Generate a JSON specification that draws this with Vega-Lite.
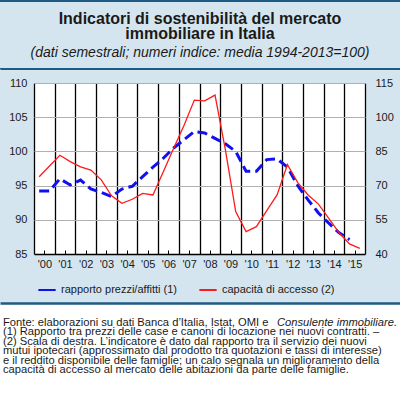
{
  "$schema": "https://vega.github.io/schema/vega-lite/v6.json",
  "background": "#d5e5ef",
  "padding": 0,
  "spacing": 8,
  "columns": 1,
  "datasets": {
    "indicatori": [
      {"periodo": 2000.25, "serie": "rapporto prezzi/affitti (1)", "valore": 94.2},
      {"periodo": 2000.75, "serie": "rapporto prezzi/affitti (1)", "valore": 94.2},
      {"periodo": 2001.25, "serie": "rapporto prezzi/affitti (1)", "valore": 96.0},
      {"periodo": 2001.75, "serie": "rapporto prezzi/affitti (1)", "valore": 95.1},
      {"periodo": 2002.25, "serie": "rapporto prezzi/affitti (1)", "valore": 95.8},
      {"periodo": 2002.75, "serie": "rapporto prezzi/affitti (1)", "valore": 94.5},
      {"periodo": 2003.25, "serie": "rapporto prezzi/affitti (1)", "valore": 94.0},
      {"periodo": 2003.75, "serie": "rapporto prezzi/affitti (1)", "valore": 93.4},
      {"periodo": 2004.25, "serie": "rapporto prezzi/affitti (1)", "valore": 94.5},
      {"periodo": 2004.75, "serie": "rapporto prezzi/affitti (1)", "valore": 94.9},
      {"periodo": 2005.25, "serie": "rapporto prezzi/affitti (1)", "valore": 96.3},
      {"periodo": 2005.75, "serie": "rapporto prezzi/affitti (1)", "valore": 97.7},
      {"periodo": 2006.25, "serie": "rapporto prezzi/affitti (1)", "valore": 99.0},
      {"periodo": 2006.75, "serie": "rapporto prezzi/affitti (1)", "valore": 100.5},
      {"periodo": 2007.25, "serie": "rapporto prezzi/affitti (1)", "valore": 101.7},
      {"periodo": 2007.75, "serie": "rapporto prezzi/affitti (1)", "valore": 102.9},
      {"periodo": 2008.25, "serie": "rapporto prezzi/affitti (1)", "valore": 102.7},
      {"periodo": 2008.75, "serie": "rapporto prezzi/affitti (1)", "valore": 101.9},
      {"periodo": 2009.25, "serie": "rapporto prezzi/affitti (1)", "valore": 101.1},
      {"periodo": 2009.75, "serie": "rapporto prezzi/affitti (1)", "valore": 100.0},
      {"periodo": 2010.25, "serie": "rapporto prezzi/affitti (1)", "valore": 97.1},
      {"periodo": 2010.75, "serie": "rapporto prezzi/affitti (1)", "valore": 97.1},
      {"periodo": 2011.25, "serie": "rapporto prezzi/affitti (1)", "valore": 98.8},
      {"periodo": 2011.75, "serie": "rapporto prezzi/affitti (1)", "valore": 98.9},
      {"periodo": 2012.25, "serie": "rapporto prezzi/affitti (1)", "valore": 97.7},
      {"periodo": 2012.75, "serie": "rapporto prezzi/affitti (1)", "valore": 95.0},
      {"periodo": 2013.25, "serie": "rapporto prezzi/affitti (1)", "valore": 92.9},
      {"periodo": 2013.75, "serie": "rapporto prezzi/affitti (1)", "valore": 91.0},
      {"periodo": 2014.25, "serie": "rapporto prezzi/affitti (1)", "valore": 89.5},
      {"periodo": 2014.75, "serie": "rapporto prezzi/affitti (1)", "valore": 88.1},
      {"periodo": 2015.25, "serie": "rapporto prezzi/affitti (1)", "valore": 87.1},
      {"periodo": 2000.25, "serie": "capacità di accesso (2)", "valore": 73.9},
      {"periodo": 2000.75, "serie": "capacità di accesso (2)", "valore": 78.6},
      {"periodo": 2001.25, "serie": "capacità di accesso (2)", "valore": 83.3},
      {"periodo": 2001.75, "serie": "capacità di accesso (2)", "valore": 80.5},
      {"periodo": 2002.25, "serie": "capacità di accesso (2)", "valore": 78.2},
      {"periodo": 2002.75, "serie": "capacità di accesso (2)", "valore": 76.8},
      {"periodo": 2003.25, "serie": "capacità di accesso (2)", "valore": 72.5},
      {"periodo": 2003.75, "serie": "capacità di accesso (2)", "valore": 65.5},
      {"periodo": 2004.25, "serie": "capacità di accesso (2)", "valore": 62.2},
      {"periodo": 2004.75, "serie": "capacità di accesso (2)", "valore": 64.0},
      {"periodo": 2005.25, "serie": "capacità di accesso (2)", "valore": 66.6},
      {"periodo": 2005.75, "serie": "capacità di accesso (2)", "valore": 65.9},
      {"periodo": 2006.25, "serie": "capacità di accesso (2)", "valore": 76.1},
      {"periodo": 2006.75, "serie": "capacità di accesso (2)", "valore": 86.4},
      {"periodo": 2007.25, "serie": "capacità di accesso (2)", "valore": 96.4},
      {"periodo": 2007.75, "serie": "capacità di accesso (2)", "valore": 107.5},
      {"periodo": 2008.25, "serie": "capacità di accesso (2)", "valore": 107.2},
      {"periodo": 2008.75, "serie": "capacità di accesso (2)", "valore": 109.7},
      {"periodo": 2009.25, "serie": "capacità di accesso (2)", "valore": 85.8},
      {"periodo": 2009.75, "serie": "capacità di accesso (2)", "valore": 58.6},
      {"periodo": 2010.25, "serie": "capacità di accesso (2)", "valore": 49.8},
      {"periodo": 2010.75, "serie": "capacità di accesso (2)", "valore": 52.0},
      {"periodo": 2011.25, "serie": "capacità di accesso (2)", "valore": 59.0},
      {"periodo": 2011.75, "serie": "capacità di accesso (2)", "valore": 65.9},
      {"periodo": 2012.25, "serie": "capacità di accesso (2)", "valore": 79.2},
      {"periodo": 2012.75, "serie": "capacità di accesso (2)", "valore": 71.3},
      {"periodo": 2013.25, "serie": "capacità di accesso (2)", "valore": 65.9},
      {"periodo": 2013.75, "serie": "capacità di accesso (2)", "valore": 61.9},
      {"periodo": 2014.25, "serie": "capacità di accesso (2)", "valore": 55.6},
      {"periodo": 2014.75, "serie": "capacità di accesso (2)", "valore": 49.3},
      {"periodo": 2015.25, "serie": "capacità di accesso (2)", "valore": 44.4},
      {"periodo": 2015.75, "serie": "capacità di accesso (2)", "valore": 42.5}
    ],
    "note": [
      {"riga": 1, "testo": "Fonte: elaborazioni su dati Banca d’Italia, Istat, OMI e"},
      {"riga": 2, "testo": "(1) Rapporto tra prezzi delle case e canoni di locazione nei nuovi contratti. –"},
      {"riga": 3, "testo": "(2) Scala di destra. L’indicatore è dato dal rapporto tra il servizio dei nuovi"},
      {"riga": 4, "testo": "mutui ipotecari (approssimato dal prodotto tra quotazioni e tassi di interesse)"},
      {"riga": 5, "testo": "e il reddito disponibile delle famiglie; un calo segnala un miglioramento della"},
      {"riga": 6, "testo": "capacità di accesso al mercato delle abitazioni da parte delle famiglie."}
    ],
    "corsivo": [
      {"riga": 1, "testo": "Consulente immobiliare."}
    ]
  },
  "concat": [
    {
      "width": 400,
      "height": 2,
      "view": {"fill": "#1f5a85", "stroke": null},
      "layer": [
        {
          "data": {"name": "corsivo"},
          "mark": {"type": "point", "size": 0, "opacity": 0},
          "encoding": {
            "x": {
              "datum": 0,
              "type": "quantitative",
              "scale": {"domain": [0, 1]},
              "axis": {"orient": "top", "labels": false, "ticks": false, "grid": false, "domainColor": "#1f5a85", "domainWidth": 2}
            },
            "y": {"field": "riga", "type": "ordinal", "axis": null}
          }
        }
      ]
    },
    {
      "width": 400,
      "height": 1,
      "view": {"fill": "#1f5a85", "stroke": null},
      "title": {
        "text": ["Indicatori di sostenibilità del mercato", "immobiliare in Italia"],
        "subtitle": "(dati semestrali; numeri indice: media 1994-2013=100)",
        "anchor": "middle",
        "align": "center",
        "frame": "group",
        "offset": 8.5
      },
      "layer": [
        {
          "data": {"name": "corsivo"},
          "mark": {"type": "point", "size": 0, "opacity": 0},
          "encoding": {
            "x": {
              "datum": 0,
              "type": "quantitative",
              "scale": {"domain": [0, 1]},
              "axis": {"orient": "bottom", "labels": false, "ticks": false, "grid": false, "domainColor": "#1f5a85", "domainWidth": 1.2}
            },
            "y": {"field": "riga", "type": "ordinal", "axis": null}
          }
        }
      ]
    },
    {
      "width": 400,
      "height": 171,
      "view": {"fill": null, "stroke": null},
      "data": {"name": "indicatori"},
      "encoding": {
        "x": {
          "field": "periodo",
          "type": "quantitative",
          "scale": {"domain": [2000, 2016], "range": [34, 365], "nice": false, "zero": false}
        }
      },
      "layer": [
        {
          "transform": [{"filter": "datum.serie === 'capacità di accesso (2)'"}],
          "mark": {"type": "line", "opacity": 0},
          "encoding": {
            "x": {
              "field": "periodo",
              "type": "quantitative",
              "axis": {
                "orient": "bottom",
                "values": [2008],
                "grid": true,
                "gridColor": "#ffffff",
                "gridWidth": 331,
                "gridOpacity": 1,
                "gridCap": "butt",
                "labels": false,
                "ticks": false,
                "domain": false
              }
            },
            "y": {"field": "valore", "type": "quantitative", "axis": null}
          }
        },
        {
          "transform": [{"filter": "datum.serie === 'rapporto prezzi/affitti (1)'"}],
          "mark": {"type": "line", "strokeWidth": 3, "strokeDash": [10, 5]},
          "encoding": {
            "x": {
              "field": "periodo",
              "type": "quantitative",
              "axis": {
                "orient": "bottom",
                "values": [2000, 2001, 2002, 2003, 2004, 2005, 2006, 2007, 2008, 2009, 2010, 2011, 2012, 2013, 2014, 2015, 2016],
                "grid": true,
                "gridColor": "#000000",
                "gridWidth": 1.3,
                "gridOpacity": 1,
                "labels": false,
                "ticks": false,
                "domainColor": "#000000",
                "domainWidth": 1.3
              }
            },
            "y": {
              "field": "valore",
              "type": "quantitative",
              "scale": {"domain": [85, 110], "nice": false, "zero": false},
              "axis": {
                "orient": "left",
                "offset": -34,
                "values": [85, 90, 95, 100, 105, 110],
                "labelOverlap": false,
                "grid": true,
                "gridColor": "#b0b0b0",
                "gridOpacity": 1,
                "ticks": false,
                "domain": false,
                "labelPadding": 7
              }
            },
            "color": {
              "field": "serie",
              "type": "nominal",
              "scale": {
                "domain": ["rapporto prezzi/affitti (1)", "capacità di accesso (2)"],
                "range": ["#1010f0", "#ff1a1a"]
              },
              "legend": {"title": null, "orient": "none", "direction": "horizontal", "legendX": 37, "legendY": 197}
            }
          }
        },
        {
          "transform": [{"filter": "datum.serie === 'capacità di accesso (2)'"}],
          "mark": {"type": "line", "strokeWidth": 1.3},
          "encoding": {
            "x": {
              "field": "periodo",
              "type": "quantitative",
              "axis": {
                "orient": "bottom",
                "values": [2000.5, 2001.5, 2002.5, 2003.5, 2004.5, 2005.5, 2006.5, 2007.5, 2008.5, 2009.5, 2010.5, 2011.5, 2012.5, 2013.5, 2014.5, 2015.5],
                "labelExpr": "\"'\" + substring(format(floor(datum.value), 'd'), 2)",
                "grid": false,
                "domain": false,
                "ticks": true,
                "tickColor": "#000000",
                "tickSize": -4,
                "labelPadding": 8
              }
            },
            "y": {
              "field": "valore",
              "type": "quantitative",
              "scale": {"domain": [40, 115], "nice": false, "zero": false},
              "axis": {
                "orient": "right",
                "offset": -35,
                "values": [40, 55, 70, 85, 100, 115],
                "labelOverlap": false,
                "grid": false,
                "ticks": false,
                "domain": false,
                "labelPadding": 10
              }
            },
            "color": {
              "field": "serie",
              "type": "nominal",
              "scale": {
                "domain": ["rapporto prezzi/affitti (1)", "capacità di accesso (2)"],
                "range": ["#1010f0", "#ff1a1a"]
              },
              "legend": {"title": null, "orient": "none", "direction": "horizontal", "legendX": 37, "legendY": 197}
            }
          }
        }
      ],
      "resolve": {"scale": {"y": "independent"}, "axis": {"x": "independent"}}
    },
    {
      "width": 400,
      "height": 103,
      "view": {"fill": "white", "stroke": null},
      "layer": [
        {
          "data": {"name": "note"},
          "mark": {"type": "text", "align": "left", "fontSize": 11.2, "color": "#1a1a1a", "dx": 3},
          "encoding": {
            "x": {
              "datum": 0,
              "type": "quantitative",
              "scale": {"domain": [0, 1]},
              "axis": {"orient": "top", "labels": false, "ticks": false, "grid": false, "domainColor": "#1f5a85", "domainWidth": 2.5}
            },
            "y": {"field": "riga", "type": "ordinal", "scale": {"type": "point", "domain": [1, 2, 3, 4, 5, 6], "range": [15, 72]}, "axis": null},
            "text": {"field": "testo"}
          }
        },
        {
          "data": {"name": "corsivo"},
          "mark": {"type": "text", "align": "right", "fontSize": 11.2, "fontStyle": "italic", "color": "#1a1a1a", "dx": -3},
          "encoding": {
            "x": {"datum": 1, "type": "quantitative"},
            "y": {"field": "riga", "type": "ordinal", "scale": {"type": "point", "domain": [1, 2, 3, 4, 5, 6], "range": [15, 72]}, "axis": null},
            "text": {"field": "testo"}
          }
        }
      ]
    }
  ],
  "resolve": {"scale": {"color": "independent"}, "legend": {"color": "independent"}},
  "config": {
    "font": "Liberation Sans",
    "view": {"stroke": null},
    "axis": {
      "title": null,
      "labelFont": "Liberation Sans",
      "labelFontSize": 11,
      "labelColor": "#1a1a1a"
    },
    "legend": {
      "symbolType": "stroke",
      "symbolSize": 300,
      "symbolStrokeWidth": 2,
      "symbolDash": [1, 0],
      "labelFont": "Liberation Sans",
      "labelFontSize": 11,
      "labelColor": "#1a1a1a",
      "columnPadding": 18
    },
    "title": {
      "font": "Liberation Sans",
      "fontSize": 16,
      "fontWeight": "bold",
      "color": "#1a1a1a",
      "lineHeight": 15,
      "subtitleFont": "Liberation Sans",
      "subtitleFontSize": 14,
      "subtitleFontStyle": "italic",
      "subtitleColor": "#1a1a1a",
      "subtitlePadding": 4
    }
  }
}
